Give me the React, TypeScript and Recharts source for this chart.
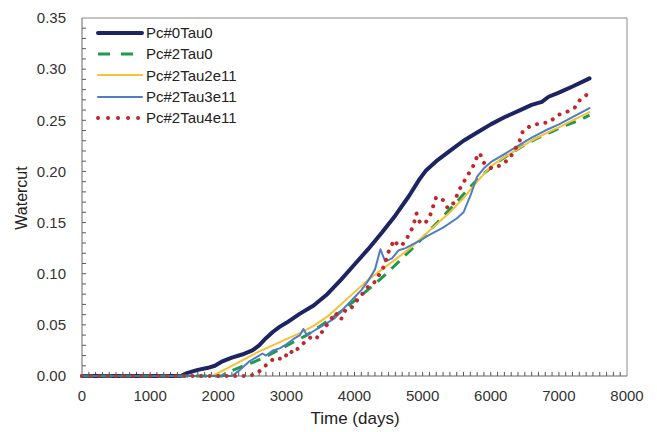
import React from 'react';
import { LineChart, Line, XAxis, YAxis, Legend, ReferenceLine } from 'recharts';

const FONT = '"Liberation Sans", Arial, sans-serif';

const xTicks = [0, 1000, 2000, 3000, 4000, 5000, 6000, 7000, 8000];
const yTicks = [0, 0.05, 0.1, 0.15, 0.2, 0.25, 0.3, 0.35];
const xMinorTicks = Array.from({ length: 79 }, (_, i) => (i + 1) * 100);
const yMinorTicks = Array.from({ length: 34 }, (_, i) => Math.round((i + 1) * 10) / 1000);
const X_TICK_LEN = 0.004; // in watercut units (~4px)
const Y_TICK_LEN = 58; // in days (~4px)

const pc0Tau0: [number, number][] = [
  [0, 0], [1450, 0], [1550, 0.003], [1700, 0.006], [1850, 0.008], [1950, 0.01], [2050, 0.014],
  [2200, 0.018], [2350, 0.021], [2500, 0.025], [2600, 0.03], [2700, 0.037], [2800, 0.043],
  [2900, 0.048], [3000, 0.052], [3200, 0.061], [3400, 0.069], [3600, 0.08], [3800, 0.094],
  [4000, 0.109], [4200, 0.124], [4400, 0.14], [4600, 0.157], [4800, 0.176], [4950, 0.192],
  [5050, 0.201], [5200, 0.21], [5400, 0.22], [5600, 0.23], [5800, 0.238], [6000, 0.246],
  [6200, 0.253], [6400, 0.259], [6600, 0.265], [6750, 0.268], [6850, 0.273], [7000, 0.277],
  [7200, 0.283], [7450, 0.291],
];

const pc2Tau0: [number, number][] = [
  [0, 0], [2050, 0], [2150, 0.004], [2300, 0.008], [2500, 0.013], [2700, 0.019], [2900, 0.026],
  [3100, 0.033], [3300, 0.04], [3500, 0.049], [3700, 0.058], [3900, 0.068], [4100, 0.079],
  [4300, 0.09], [4500, 0.102], [4700, 0.115], [4900, 0.128], [5100, 0.142], [5300, 0.156],
  [5500, 0.17], [5700, 0.185], [5900, 0.198], [6100, 0.209], [6300, 0.218], [6500, 0.226],
  [6700, 0.233], [6900, 0.239], [7100, 0.245], [7300, 0.25], [7450, 0.255],
];

const pc2Tau2e11: [number, number][] = [
  [0, 0], [1900, 0], [2000, 0.003], [2200, 0.01], [2400, 0.017], [2600, 0.024], [2800, 0.03],
  [3000, 0.036], [3200, 0.042], [3400, 0.049], [3600, 0.058], [3800, 0.07], [4000, 0.082],
  [4200, 0.094], [4400, 0.104], [4600, 0.114], [4800, 0.124], [5000, 0.136], [5200, 0.148],
  [5400, 0.16], [5600, 0.174], [5800, 0.19], [6000, 0.205], [6200, 0.214], [6400, 0.222],
  [6600, 0.23], [6800, 0.237], [7000, 0.243], [7200, 0.25], [7450, 0.258],
];

const pc2Tau3e11: [number, number][] = [
  [0, 0], [2200, 0], [2300, 0.005], [2450, 0.014], [2550, 0.018], [2650, 0.022], [2700, 0.02],
  [2800, 0.025], [2900, 0.027], [3000, 0.031], [3100, 0.036], [3200, 0.04], [3250, 0.046],
  [3300, 0.04], [3400, 0.044], [3500, 0.048], [3600, 0.052], [3700, 0.056], [3800, 0.063],
  [3900, 0.07], [4000, 0.077], [4100, 0.084], [4200, 0.093], [4300, 0.104], [4380, 0.124],
  [4450, 0.112], [4550, 0.115], [4650, 0.123], [4750, 0.125], [4950, 0.132], [5100, 0.138],
  [5300, 0.145], [5500, 0.154], [5600, 0.16], [5700, 0.176], [5800, 0.195], [5900, 0.203],
  [6000, 0.209], [6200, 0.217], [6400, 0.225], [6600, 0.233], [6800, 0.24], [7000, 0.246],
  [7200, 0.253], [7450, 0.262],
];

const pc2Tau4e11: [number, number][] = [
  [0, 0], [2450, 0], [2550, 0.002], [2650, 0.007], [2750, 0.014], [2850, 0.018], [2950, 0.016],
  [3050, 0.025], [3100, 0.022], [3200, 0.029], [3320, 0.036], [3400, 0.04], [3470, 0.037],
  [3550, 0.046], [3650, 0.055], [3720, 0.062], [3800, 0.055], [3870, 0.065], [3950, 0.066],
  [4000, 0.071], [4100, 0.079], [4220, 0.089], [4300, 0.092], [4370, 0.1], [4440, 0.108],
  [4490, 0.12], [4540, 0.127], [4580, 0.133], [4650, 0.127], [4700, 0.128], [4790, 0.137],
  [4860, 0.146], [4910, 0.159], [4960, 0.15], [5030, 0.149], [5100, 0.155], [5200, 0.175],
  [5300, 0.172], [5370, 0.164], [5470, 0.17], [5520, 0.18], [5590, 0.188], [5660, 0.196],
  [5740, 0.205], [5790, 0.213], [5840, 0.218], [5890, 0.209], [6010, 0.203], [6150, 0.206],
  [6280, 0.213], [6350, 0.221], [6420, 0.229], [6470, 0.239], [6570, 0.244], [6720, 0.247],
  [6860, 0.248], [6980, 0.255], [7110, 0.258], [7230, 0.262], [7310, 0.27], [7430, 0.276],
];

const toRows = (pts: [number, number][]) => pts.map(([t, w]) => ({ t, w }));

const series = [
  { name: 'Pc#0Tau0', data: pc0Tau0, color: '#1c2461', width: 4, dash: undefined as string | undefined, cap: 'round' },
  { name: 'Pc#2Tau0', data: pc2Tau0, color: '#1f9a4c', width: 3, dash: '11 8', cap: 'butt' },
  { name: 'Pc#2Tau2e11', data: pc2Tau2e11, color: '#f6c133', width: 2, dash: undefined, cap: 'round' },
  { name: 'Pc#2Tau3e11', data: pc2Tau3e11, color: '#4f7dc4', width: 2, dash: undefined, cap: 'round' },
  { name: 'Pc#2Tau4e11', data: pc2Tau4e11, color: '#c0262c', width: 4, dash: '0.01 8.5', cap: 'round' },
];

const legendDash: Record<string, string | undefined> = {
  'Pc#0Tau0': undefined,
  'Pc#2Tau0': '12 11',
  'Pc#2Tau2e11': undefined,
  'Pc#2Tau3e11': undefined,
  'Pc#2Tau4e11': '0.01 10',
};

const renderLegend = () => (
  <div style={{ fontFamily: FONT, fontSize: 15, color: '#222' }}>
    {series.map((s) => (
      <div key={s.name} style={{ height: 21.3, display: 'flex', alignItems: 'center' }}>
        <svg width={50} height={10} style={{ display: 'block' }}>
          <line
            x1={2}
            x2={46}
            y1={5}
            y2={5}
            stroke={s.color}
            strokeWidth={s.width}
            strokeDasharray={legendDash[s.name]}
            strokeLinecap={s.cap as any}
          />
        </svg>
        <span style={{ lineHeight: '21px' }}>{s.name}</span>
      </div>
    ))}
  </div>
);

export default function App() {
  return (
    <div style={{ position: 'absolute', left: 0, top: 0, width: 657, height: 432, background: '#fff' }}>
      <LineChart width={657} height={432} margin={{ top: 17, right: 29, bottom: 0, left: 0 }}>
        <XAxis
          xAxisId="top"
          orientation="top"
          type="number"
          dataKey="t"
          domain={[0, 8000]}
          height={1}
          tick={false}
          tickLine={false}
          axisLine={{ stroke: '#8a8a8a' }}
        />
        <XAxis
          type="number"
          dataKey="t"
          domain={[0, 8000]}
          ticks={xTicks}
          interval={0}
          height={56}
          tickLine={false}
          tickMargin={8}
          axisLine={{ stroke: '#666' }}
          tick={{ fontSize: 15, fill: '#333', fontFamily: FONT }}
          label={{
            content: () => (
              <text x={355} y={424} textAnchor="middle" fontSize={17} fill="#222" fontFamily={FONT}>
                Time (days)
              </text>
            ),
          }}
        />
        <YAxis
          yAxisId="right"
          orientation="right"
          type="number"
          domain={[0, 0.35]}
          width={1}
          tick={false}
          tickLine={false}
          axisLine={{ stroke: '#8a8a8a' }}
        />
        <YAxis
          type="number"
          domain={[0, 0.35]}
          ticks={yTicks}
          interval={0}
          width={82}
          tickLine={false}
          tickMargin={10}
          axisLine={{ stroke: '#666' }}
          tickFormatter={(v: number) => v.toFixed(2)}
          tick={{ fontSize: 15, fill: '#333', fontFamily: FONT }}
          label={{
            content: () => (
              <text
                x={27}
                y={198}
                textAnchor="middle"
                fontSize={16}
                fill="#222"
                fontFamily={FONT}
                transform="rotate(-90 27 198)"
              >
                Watercut
              </text>
            ),
          }}
        />
        {xMinorTicks.map((t) => (
          <ReferenceLine
            key={`xt${t}`}
            segment={[{ x: t, y: 0 }, { x: t, y: X_TICK_LEN }]}
            stroke="#555"
            strokeWidth={1}
          />
        ))}
        {yMinorTicks.map((v) => (
          <ReferenceLine
            key={`yt${v}`}
            segment={[{ x: 0, y: v }, { x: Y_TICK_LEN, y: v }]}
            stroke="#555"
            strokeWidth={1}
          />
        ))}
        <Legend
          layout="vertical"
          align="center"
          verticalAlign="middle"
          content={renderLegend}
          wrapperStyle={{ position: 'absolute', left: 96, top: 22, width: 200, height: 110 }}
        />
        {series.map((s) => (
          <Line
            key={s.name}
            name={s.name}
            data={toRows(s.data)}
            dataKey="w"
            type="linear"
            stroke={s.color}
            strokeWidth={s.width}
            strokeDasharray={s.dash}
            strokeLinecap={s.cap as any}
            strokeLinejoin="round"
            dot={false}
            activeDot={false}
            isAnimationActive={false}
          />
        ))}
      </LineChart>
    </div>
  );
}
